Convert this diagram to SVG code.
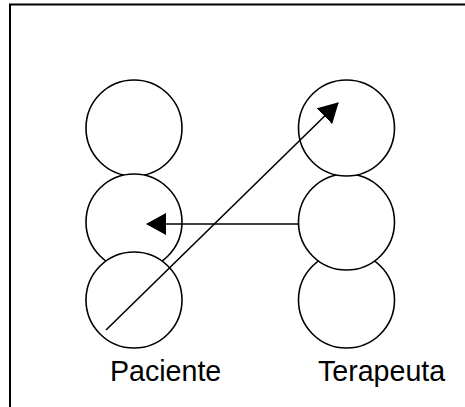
<svg xmlns="http://www.w3.org/2000/svg" width="465" height="407" viewBox="0 0 465 407">
  <style>
    .c { fill: #ffffff; stroke: #000000; stroke-width: 1.6; }
    .l { fill: none; stroke: #000000; stroke-width: 1.6; }
    .t { font-family: "Liberation Sans", Arial, sans-serif; font-size: 28.6px; fill: #000000; }
  </style>
  <defs>
    <marker id="ah" markerUnits="userSpaceOnUse" markerWidth="20" markerHeight="22" viewBox="0 0 20 22" refX="19" refY="11" orient="auto">
      <path d="M0,0 L20,11 L0,22 z" fill="#000000"/>
    </marker>
  </defs>
  <rect width="465" height="407" fill="#ffffff"/>
  <g id="frame">
    <path d="M10,407 L10,4.5 L465,4.5" fill="none" stroke="#000000" stroke-width="2"/>
  </g>
  <g id="paciente">
    <circle id="p1" class="c" cx="134" cy="128" r="48"/>
    <circle id="p2" class="c" cx="134" cy="222" r="48"/>
    <circle id="p3" class="c" cx="134" cy="300" r="48"/>
    <text class="t" x="110" y="381">Paciente</text>
  </g>
  <g id="terapeuta">
    <circle id="t3" class="c" cx="346.5" cy="300" r="48"/>
    <circle id="t2" class="c" cx="346.5" cy="222" r="48"/>
    <circle id="t1" class="c" cx="346.5" cy="128" r="48"/>
    <text class="t" x="318" y="381">Terapeuta</text>
  </g>
  <g id="connectors">
    <line class="l" x1="298.5" y1="224" x2="147" y2="224" marker-end="url(#ah)"/>
    <line class="l" x1="106" y1="330" x2="338" y2="103" marker-end="url(#ah)"/>
  </g>
</svg>
